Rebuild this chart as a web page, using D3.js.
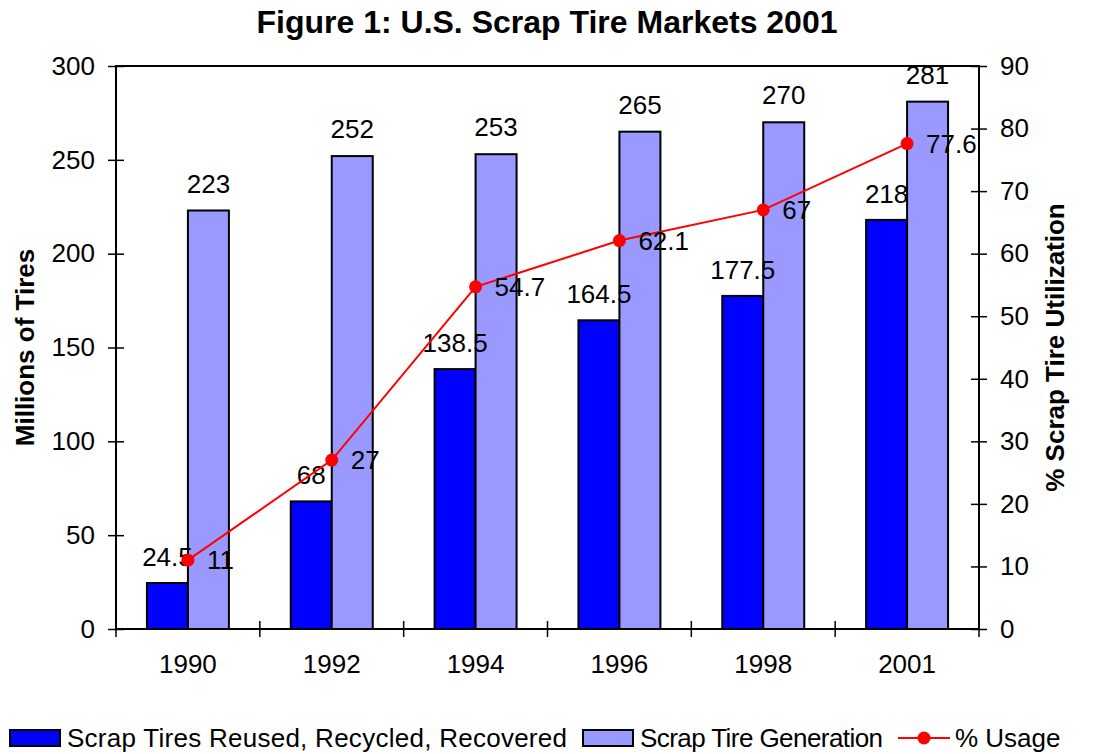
<!DOCTYPE html>
<html>
<head>
<meta charset="utf-8">
<script src="https://cdn.jsdelivr.net/npm/d3@7"></script>
<style>
  body { margin: 0; background: #fff; }
  text { font-family: Arial, "Liberation Sans", sans-serif; fill: #000; }
</style>
</head>
<body>
<svg id="chart" width="1094" height="754"></svg>
<script>
const years = ["1990", "1992", "1994", "1996", "1998", "2001"];
const reused = [24.5, 68, 138.5, 164.5, 177.5, 218];
const generation = [223, 252, 253, 265, 270, 281];
const usage = [11, 27, 54.7, 62.1, 67, 77.6];
const leftTicks = [0, 50, 100, 150, 200, 250, 300];
const rightTicks = [0, 10, 20, 30, 40, 50, 60, 70, 80, 90];

const fs = 26;
const svg = d3.select("#chart");
const margin = { top: 66, right: 115, bottom: 125, left: 116 },
  w = 1094 - margin.left - margin.right,
  h = 754 - margin.top - margin.bottom;

const g = svg.append("g")
  .attr("transform", "translate(" + margin.left + "," + margin.top + ")");

const x = d3.scaleBand().domain(years).range([0, w]);
const xInner = d3.scaleBand().domain(["a", "b"]).range([0, x.bandwidth() * 0.57]);
const groupOff = (x.bandwidth() - x.bandwidth() * 0.57) / 2;
const yL = d3.scaleLinear().domain([0, 300]).range([h, 0]);
const yR = d3.scaleLinear().domain([0, 90]).range([h, 0]);

// frame
g.append("rect").attr("width", w).attr("height", h)
  .attr("fill", "none").attr("stroke", "#000").attr("stroke-width", 2);

// bars
const groups = g.selectAll(".grp").data(years).enter().append("g")
  .attr("transform", d => "translate(" + (x(d) + groupOff) + ",0)");

groups.append("rect")
  .attr("x", xInner("a"))
  .attr("y", (d, i) => yL(reused[i]))
  .attr("width", xInner.bandwidth())
  .attr("height", (d, i) => h - yL(reused[i]))
  .attr("fill", "#0000ff").attr("stroke", "#000").attr("stroke-width", 2);

groups.append("rect")
  .attr("x", xInner("b"))
  .attr("y", (d, i) => yL(generation[i]))
  .attr("width", xInner.bandwidth())
  .attr("height", (d, i) => h - yL(generation[i]))
  .attr("fill", "#9999ff").attr("stroke", "#000").attr("stroke-width", 2);

// axes
const fontFam = "Arial, 'Liberation Sans', sans-serif";
const axL = g.append("g").call(d3.axisLeft(yL).tickValues(leftTicks).tickSize(0).tickPadding(21));
axL.select(".domain").remove();
axL.selectAll("text").attr("font-size", fs).attr("font-family", fontFam);
axL.selectAll(".tick").append("line").attr("x1", -8).attr("x2", 8).attr("stroke", "#000").attr("stroke-width", 1.5);

const axR = g.append("g").attr("transform", "translate(" + w + ",0)")
  .call(d3.axisRight(yR).tickValues(rightTicks).tickSize(0).tickPadding(21));
axR.select(".domain").remove();
axR.selectAll("text").attr("font-size", fs).attr("font-family", fontFam);
axR.selectAll(".tick").append("line").attr("x1", -8).attr("x2", 8).attr("stroke", "#000").attr("stroke-width", 1.5);

const axB = g.append("g").attr("transform", "translate(0," + h + ")")
  .call(d3.axisBottom(x).tickSize(0).tickPadding(26));
axB.select(".domain").remove();
axB.selectAll("text").attr("font-size", fs).attr("font-family", fontFam);
g.selectAll(".xsep").data(d3.range(years.length + 1)).enter().append("line")
  .attr("x1", i => i * x.step()).attr("x2", i => i * x.step())
  .attr("y1", h - 8).attr("y2", h + 8)
  .attr("stroke", "#000").attr("stroke-width", 1.5);

// bar labels
groups.append("text")
  .attr("x", xInner("a") + xInner.bandwidth() / 2)
  .attr("y", (d, i) => yL(reused[i]) - 17)
  .attr("text-anchor", "middle").attr("font-size", fs)
  .text((d, i) => reused[i]);
groups.append("text")
  .attr("x", xInner("b") + xInner.bandwidth() / 2)
  .attr("y", (d, i) => yL(generation[i]) - 18)
  .attr("text-anchor", "middle").attr("font-size", fs)
  .text((d, i) => generation[i]);

// usage line
const cx = d => x(d) + x.bandwidth() / 2;
g.append("path")
  .datum(years)
  .attr("fill", "none").attr("stroke", "#ff0000").attr("stroke-width", 2)
  .attr("d", d3.line().x(d => cx(d)).y((d, i) => yR(usage[i])));
g.selectAll(".pt").data(years).enter().append("circle")
  .attr("cx", d => cx(d)).attr("cy", (d, i) => yR(usage[i])).attr("r", 6.5)
  .attr("fill", "#ff0000");
g.selectAll(".pl").data(years).enter().append("text")
  .attr("x", d => cx(d) + 19).attr("y", (d, i) => yR(usage[i]) + 9)
  .attr("font-size", fs)
  .text((d, i) => usage[i]);

// titles
svg.append("text").attr("x", 547).attr("y", 33).attr("text-anchor", "middle")
  .attr("font-size", 32).attr("font-weight", "bold")
  .text("Figure 1: U.S. Scrap Tire Markets 2001");
svg.append("text").attr("transform", "translate(34," + (margin.top + h / 2) + ") rotate(-90)")
  .attr("text-anchor", "middle").attr("font-size", fs).attr("font-weight", "bold")
  .text("Millions of Tires");
svg.append("text").attr("transform", "translate(1064," + (margin.top + h / 2) + ") rotate(-90)")
  .attr("text-anchor", "middle").attr("font-size", fs).attr("font-weight", "bold")
  .text("% Scrap Tire Utilization");

// legend
const leg = svg.append("g").attr("transform", "translate(0,738)");
leg.append("rect").attr("x", 10).attr("y", -8).attr("width", 50).attr("height", 16)
  .attr("fill", "#0000ff").attr("stroke", "#000").attr("stroke-width", 2);
leg.append("text").attr("x", 67).attr("y", 9).attr("font-size", fs)
  .attr("textLength", 500).attr("lengthAdjust", "spacing")
  .text("Scrap Tires Reused, Recycled, Recovered");
leg.append("rect").attr("x", 583).attr("y", -8).attr("width", 50).attr("height", 16)
  .attr("fill", "#9999ff").attr("stroke", "#000").attr("stroke-width", 2);
leg.append("text").attr("x", 640).attr("y", 9).attr("font-size", fs)
  .attr("textLength", 243).attr("lengthAdjust", "spacing")
  .text("Scrap Tire Generation");
leg.append("line").attr("x1", 898).attr("x2", 950).attr("y1", 0).attr("y2", 0)
  .attr("stroke", "#ff0000").attr("stroke-width", 2);
leg.append("circle").attr("cx", 924).attr("cy", 0).attr("r", 6.5).attr("fill", "#ff0000");
leg.append("text").attr("x", 955).attr("y", 9).attr("font-size", fs).text("% Usage");
</script>
</body>
</html>
